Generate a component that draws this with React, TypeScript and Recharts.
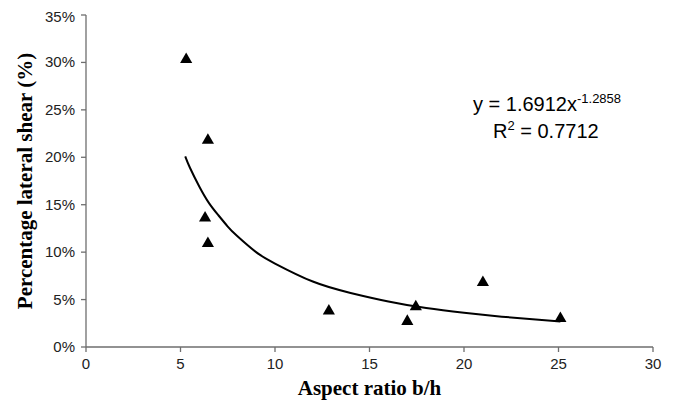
import { ComposedChart, Scatter, Line, XAxis, YAxis, Label } from 'recharts';

// measured points (aspect ratio b/h, % lateral shear)
const aspectRatio = [5.3, 6.45, 6.3, 6.45, 12.85, 17.0, 17.45, 21.0, 25.1];
const lateralShear = [30.3, 21.8, 13.6, 10.9, 3.8, 2.7, 4.25, 6.8, 3.0];

// power trend line
const trendX = [5.25, 5.5, 6, 6.5, 7, 7.5, 8, 9, 10, 12, 14, 16, 18, 20, 22, 25.1];
const trendY = [20.1, 18.9, 16.9, 15.2, 13.9, 12.7, 11.7, 10.0, 8.8, 6.9, 5.7, 4.8, 4.1, 3.6, 3.2, 2.7];

const xTicks = [0, 5, 10, 15, 20, 25, 30];
const yTicks = [0, 5, 10, 15, 20, 25, 30, 35];

const points = aspectRatio.map((x, i) => ({ x, y: lateralShear[i] }));
const trend = trendX.map((x, i) => ({ x, y: trendY[i] }));

const axisColor = '#6e6e6e';
const sans = 'Liberation Sans, Arial, sans-serif';
const titleFont = { fontFamily: 'Liberation Serif, Times New Roman, serif', fontWeight: 700, fontSize: 21, fill: '#000' };
const eqFont = { fontFamily: sans, fontSize: 20, fill: '#000' };

const XTick = ({ x, y, payload }: any) => (
  <text x={x} y={y + 15} textAnchor="middle" fontFamily={sans} fontSize={15} fill="#222">
    {payload.value}
  </text>
);

const YTick = ({ x, y, payload }: any) => (
  <text x={x} y={y + 5} textAnchor="end" fontFamily={sans} fontSize={15} fill="#222">
    {`${payload.value}%`}
  </text>
);

export default function App() {
  return (
    <ComposedChart width={666} height={394} margin={{ top: 7, right: 21, bottom: 0, left: 0 }}>
      <XAxis
        type="number"
        dataKey="x"
        domain={[0, 30]}
        ticks={xTicks}
        height={55}
        stroke={axisColor}
        strokeWidth={1.3}
        tickSize={5}
        tickMargin={2}
        tick={<XTick />}
        allowDataOverflow
      >
        <Label
          content={({ viewBox }: any) => (
            <text x={viewBox.x + viewBox.width / 2} y={387} textAnchor="middle" style={titleFont}>
              Aspect ratio b/h
            </text>
          )}
        />
      </XAxis>
      <YAxis
        type="number"
        dataKey="y"
        domain={[0, 35]}
        ticks={yTicks}
        width={78}
        stroke={axisColor}
        strokeWidth={1.3}
        tickSize={5}
        tickMargin={6}
        tick={<YTick />}
        allowDataOverflow
      >
        <Label
          content={({ viewBox }: any) => {
            const cy = viewBox.y + viewBox.height / 2;
            return (
              <text
                x={17}
                y={cy}
                transform={`rotate(-90, 17, ${cy})`}
                textAnchor="middle"
                dominantBaseline="central"
                style={titleFont}
              >
                Percentage lateral shear (%)
              </text>
            );
          }}
        />
      </YAxis>
      <Line
        data={trend}
        dataKey="y"
        type="natural"
        stroke="#000"
        strokeWidth={2}
        dot={false}
        activeDot={false}
        isAnimationActive={false}
      />
      <Scatter data={points} dataKey="y" shape="triangle" size={40} fill="#000" isAnimationActive={false} />
      <text x={465} y={103} style={eqFont}>
        y = 1.6912x
        <tspan dy={-8} fontSize={13}>-1.2858</tspan>
      </text>
      <text x={485} y={130} style={eqFont}>
        R
        <tspan dy={-8} fontSize={13}>2</tspan>
        <tspan dy={8}> = 0.7712</tspan>
      </text>
    </ComposedChart>
  );
}
